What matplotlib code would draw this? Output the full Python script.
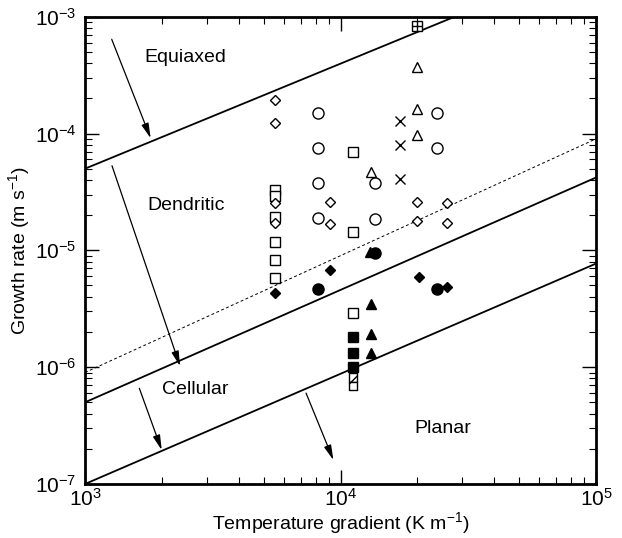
import matplotlib.pyplot as plt

plt.rcParams['font.family'] = ['Liberation Sans', 'DejaVu Sans']
plt.rcParams['mathtext.fontset'] = 'custom'
plt.rcParams['mathtext.rm'] = 'Liberation Sans'
plt.rcParams['mathtext.it'] = 'Liberation Sans:italic'
plt.rcParams['mathtext.bf'] = 'Liberation Sans:bold'

# region boundaries (G in K/m, V in m/s), end points
equiaxed_G = [1e3, 2.8e4]
equiaxed_V = [5e-5, 1e-3]
cellular_G = [1e3, 1e5]
cellular_V = [5e-7, 4.2e-5]
planar_G = [1e3, 1e5]
planar_V = [1e-7, 7.7e-6]
dotted_G = [1e3, 1e5]
dotted_V = [9e-7, 9e-5]

# measured points, grouped by symbol
open_circle_G = [8.2e3, 8.2e3, 8.2e3, 8.2e3, 2.38e4, 2.38e4, 1.37e4, 1.37e4]
open_circle_V = [1.51e-4, 7.55e-5, 3.75e-5, 1.88e-5, 1.49e-4, 7.55e-5, 3.79e-5, 1.85e-5]

open_square_G = [1.12e4, 1.12e4, 1.12e4, 5.54e3, 5.54e3, 5.54e3, 5.54e3, 5.54e3, 5.54e3]
open_square_V = [6.9e-5, 1.44e-5, 2.89e-6, 3.28e-5, 2.9e-5, 1.94e-5, 1.19e-5, 8.26e-6, 5.76e-6]

open_diamond_G = [5.54e3, 5.54e3, 9.1e3, 9.1e3, 2.0e4, 2.0e4, 2.6e4, 2.6e4, 5.54e3, 5.54e3]
open_diamond_V = [1.94e-4, 1.24e-4, 2.61e-5, 1.68e-5, 2.61e-5, 1.78e-5, 2.56e-5, 1.72e-5,
                  2.52e-5, 1.70e-5]

open_triangle_G = [2.0e4, 2.0e4, 2.0e4, 1.32e4]
open_triangle_V = [3.73e-4, 1.61e-4, 9.7e-5, 4.65e-5]

cross_G = [1.71e4, 1.71e4, 1.71e4]
cross_V = [1.29e-4, 7.97e-5, 4.07e-5]

boxed_cross_G = [2.0e4]
boxed_cross_V = [8.32e-4]

filled_diamond_G = [5.54e3, 9.1e3, 2.02e4, 2.6e4]
filled_diamond_V = [4.34e-6, 6.78e-6, 5.94e-6, 4.82e-6]

filled_circle_G = [8.2e3, 1.36e4, 2.38e4]
filled_circle_V = [4.67e-6, 9.4e-6, 4.67e-6]

filled_triangle_G = [1.31e4, 1.32e4, 1.32e4, 1.32e4]
filled_triangle_V = [9.7e-6, 3.47e-6, 1.91e-6, 1.31e-6]

filled_square_G = [1.12e4, 1.12e4, 1.12e4]
filled_square_V = [1.80e-6, 1.31e-6, 1.01e-6]

hatched_square_G = [1.12e4, 1.12e4]
hatched_square_V = [8.18e-7, 6.89e-7]

# arrows: (start G, start V) -> (end G, end V)
arrows = [
    ((1272, 6.4e-4), (1807, 9.1e-5)),
    ((1275, 5.3e-5), (2355, 1.02e-6)),
    ((1631, 6.6e-7), (1996, 1.95e-7)),
    ((7330, 6.0e-7), (9380, 1.6e-7)),
]

regions = ['Equiaxed', 'Dendritic', 'Cellular', 'Planar']
region_G = [2460, 2485, 2700, 2.52e4]
region_V = [4.5e-4, 2.44e-5, 6.4e-7, 3.0e-7]

fig = plt.figure(figsize=(6.22, 5.38), dpi=100)
ax = fig.add_axes([0.1367, 0.1004, 0.8215, 0.8686])
ax.set_xscale('log')
ax.set_yscale('log')
ax.set_xlim(1e3, 1e5)
ax.set_ylim(1e-7, 1e-3)

ax.plot(equiaxed_G, equiaxed_V, color='k', lw=1.3)
ax.plot(cellular_G, cellular_V, color='k', lw=1.3)
ax.plot(planar_G, planar_V, color='k', lw=1.3)
ax.plot(dotted_G, dotted_V, color='k', lw=0.7, linestyle=(0, (3, 2.5)))

ms = dict(color='k', linestyle='none', markeredgewidth=1.0, clip_on=False)
ax.plot(open_circle_G, open_circle_V, marker='o', markersize=8, markerfacecolor='white', **ms)
ax.plot(open_square_G, open_square_V, marker='s', markersize=6.5, markerfacecolor='white', **ms)
ax.plot(open_diamond_G, open_diamond_V, marker='D', markersize=5.5, markerfacecolor='white', **ms)
ax.plot(open_triangle_G, open_triangle_V, marker='^', markersize=7, markerfacecolor='white', **ms)
ax.plot(cross_G, cross_V, marker='x', markersize=7, **ms)
ax.plot(boxed_cross_G, boxed_cross_V, marker='s', markersize=6.5, markerfacecolor='white', **ms)
ax.plot(boxed_cross_G, boxed_cross_V, marker='+', markersize=6.5, **ms)
ax.plot(filled_diamond_G, filled_diamond_V, marker='D', markersize=5.5, **ms)
ax.plot(filled_circle_G, filled_circle_V, marker='o', markersize=8, **ms)
ax.plot(filled_triangle_G, filled_triangle_V, marker='^', markersize=7, **ms)
ax.plot(filled_square_G, filled_square_V, marker='s', markersize=6.5, **ms)
ax.scatter(hatched_square_G, hatched_square_V, marker='s', s=40, facecolor='white',
           edgecolor='k', linewidth=1.0, hatch='//', zorder=3)

for (g0, v0), (g1, v1) in arrows:
    ax.annotate('', xy=(g1, v1), xytext=(g0, v0),
                arrowprops=dict(arrowstyle='-|>,head_length=0.9,head_width=0.22',
                                color='k', lw=0.9, shrinkA=0, shrinkB=0))

for name, g, v in zip(regions, region_G, region_V):
    ax.text(g, v, name, fontsize=14, ha='center', va='center')

ax.set_xlabel('Temperature gradient (K m$^{-1}$)', fontsize=14, labelpad=0)
ax.set_ylabel('Growth rate (m s$^{-1}$)', fontsize=14, labelpad=2)

ax.tick_params(which='both', direction='in', top=True, right=True, labelsize=15)
ax.tick_params(which='major', length=10, width=1.0, pad=6)
ax.tick_params(axis='x', which='major', pad=3)
ax.tick_params(which='minor', length=5, width=0.8)
for s in ax.spines.values():
    s.set_linewidth(2.0)

fig.savefig('out.png', dpi=100)
